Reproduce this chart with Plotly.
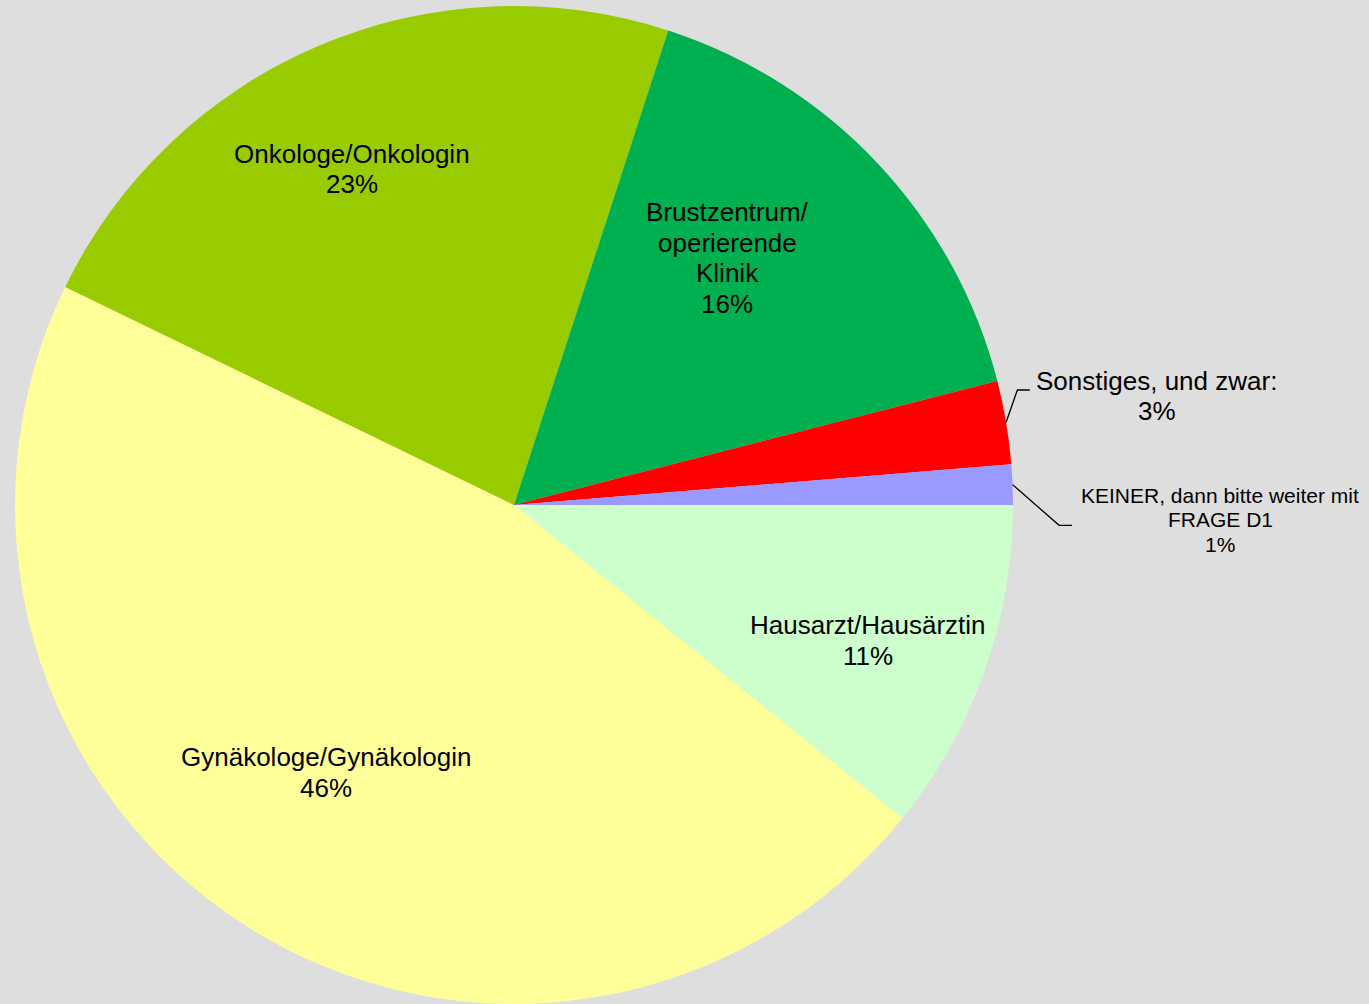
import math
import plotly.graph_objects as go

# ---------------- data ----------------
categories = [
    "Hausarzt/Hausärztin",
    "Gynäkologe/Gynäkologin",
    "Onkologe/Onkologin",
    "Brustzentrum/ operierende Klinik",
    "Sonstiges, und zwar:",
    "KEINER, dann bitte weiter mit FRAGE D1",
]
values = [10.8, 46.4, 22.8, 16.0, 2.7, 1.3]
label_lines = [
    ["Hausarzt/Hausärztin"],
    ["Gynäkologe/Gynäkologin"],
    ["Onkologe/Onkologin"],
    ["Brustzentrum/", "operierende", "Klinik"],
    ["Sonstiges, und zwar:"],
    ["KEINER, dann bitte weiter mit", "FRAGE D1"],
]

# ---------------- style ----------------
colors = ["#CCFFCC", "#FFFF99", "#99CC00", "#00B050", "#FF0000", "#9999FF"]
BG = "#DEDEDE"
FONT = "Liberation Sans, Arial, sans-serif"
W, H = 1369, 1004
DOMAIN_X = [15 / W, 1013 / W]
DOMAIN_Y = [0.0, 998 / H]

# label placement style: inside -> (radius fraction, angle shift deg); outside -> pixel offsets from slice edge
label_style = [
    {"mode": "in", "rf": 0.760, "dang": -1.5, "size": 26, "sp": 30.5},
    {"mode": "in", "rf": 0.655, "dang": -2.7, "size": 26, "sp": 30.5},
    {"mode": "in", "rf": 0.747, "dang": 2.7, "size": 26, "sp": 30.5},
    {"mode": "in", "rf": 0.654, "dang": 6.0, "size": 26, "sp": 30.5},
    {"mode": "out", "lab": (150.5, -26.0), "elbow": (11.3, -32.3), "end": (23.7, -32.3), "size": 26, "sp": 30.0},
    {"mode": "out", "lab": (207.5, 35.3), "elbow": (46.5, 40.7), "end": (59.5, 40.7), "size": 21, "sp": 24.5},
]

# ---------------- geometry from domain ----------------
cx = W * (DOMAIN_X[0] + DOMAIN_X[1]) / 2
cy = H * (1 - (DOMAIN_Y[0] + DOMAIN_Y[1]) / 2)
r = min(W * (DOMAIN_X[1] - DOMAIN_X[0]), H * (DOMAIN_Y[1] - DOMAIN_Y[0])) / 2
total = sum(values)


def to_paper(px, py):
    return px / W, 1 - py / H


fig = go.Figure(
    go.Pie(
        labels=categories,
        values=values,
        sort=False,
        direction="clockwise",
        rotation=90,
        textinfo="none",
        hoverinfo="skip",
        marker=dict(colors=colors, line=dict(width=0)),
        domain=dict(x=DOMAIN_X, y=DOMAIN_Y),
        showlegend=False,
    )
)

annotations = []
shapes = []
cum = 0.0
for i, v in enumerate(values):
    mid_frac = (cum + v / 2) / total
    cum += v
    ang = math.radians(-mid_frac * 360)  # clockwise from 3 o'clock
    st = label_style[i]
    pct = f"{round(v / total * 100)}%"
    lines = label_lines[i] + [pct]
    if st["mode"] == "in":
        a2 = ang + math.radians(st["dang"])
        lx = cx + st["rf"] * r * math.cos(a2)
        ly = cy - st["rf"] * r * math.sin(a2)
    else:
        ex = cx + r * math.cos(ang)
        ey = cy - r * math.sin(ang)
        lx, ly = ex + st["lab"][0], ey + st["lab"][1]
        p0 = to_paper(ex, ey)
        p1 = to_paper(ex + st["elbow"][0], ey + st["elbow"][1])
        p2 = to_paper(ex + st["end"][0], ey + st["end"][1])
        shapes.append(dict(
            type="path", xref="paper", yref="paper",
            path=f"M {p0[0]},{p0[1]} L {p1[0]},{p1[1]} L {p2[0]},{p2[1]}",
            line=dict(color="black", width=1.3),
        ))
    n = len(lines)
    for j, t in enumerate(lines):
        yy = ly + (j - (n - 1) / 2) * st["sp"]
        xp, yp = to_paper(lx, yy)
        annotations.append(dict(
            x=xp, y=yp, xref="paper", yref="paper", text=t, showarrow=False,
            xanchor="center", yanchor="middle",
            font=dict(family=FONT, size=st["size"], color="black"),
        ))

fig.update_layout(
    width=W, height=H,
    margin=dict(l=0, r=0, t=0, b=0),
    paper_bgcolor=BG, plot_bgcolor=BG,
    annotations=annotations, shapes=shapes,
)

fig.write_html(
    "out.html",
    config={"displayModeBar": False},
    post_script="document.body.style.margin='0px';document.body.style.overflow='hidden';document.body.style.background='" + BG + "';",
)
